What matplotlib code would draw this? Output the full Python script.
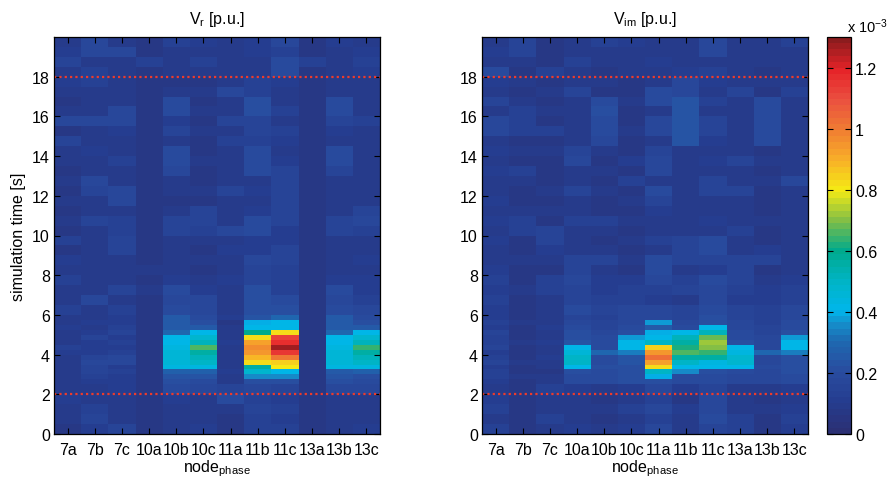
import numpy as np
import matplotlib
matplotlib.use("Agg")
import matplotlib.pyplot as plt
from matplotlib.colors import LinearSegmentedColormap

plt.rcParams['font.family'] = ['Liberation Sans', 'DejaVu Sans']
plt.rcParams['mathtext.default'] = 'regular'
plt.rcParams['font.size'] = 11.5

nodes = ['7a', '7b', '7c', '10a', '10b', '10c', '11a', '11b', '11c', '13a', '13b', '13c']

# time bin edges [s]: 0.5 s bins, refined to 0.25 s around the disturbance
t_edges = np.concatenate([np.arange(0.0, 2.5, 0.5),
                          np.arange(2.5, 6.0, 0.25),
                          np.arange(6.0, 20.01, 0.5)])

# |V_r| deviation, units of 1e-3 p.u.; one row per time bin, one column per node
#            7a    7b    7c    10a   10b   10c   11a   11b   11c   13a   13b   13c
vr_pre = [
    [0.08, 0.12, 0.15, 0.08, 0.09, 0.12, 0.08, 0.14, 0.13, 0.08, 0.10, 0.11],  # 0.0
    [0.10, 0.15, 0.09, 0.08, 0.10, 0.10, 0.08, 0.14, 0.12, 0.08, 0.10, 0.10],  # 0.5
    [0.09, 0.14, 0.10, 0.08, 0.10, 0.10, 0.10, 0.15, 0.14, 0.08, 0.09, 0.10],  # 1.0
    [0.12, 0.10, 0.10, 0.08, 0.11, 0.10, 0.19, 0.13, 0.12, 0.08, 0.10, 0.10],  # 1.5
    [0.09, 0.10, 0.12, 0.08, 0.20, 0.18, 0.16, 0.18, 0.16, 0.08, 0.18, 0.17],  # 2.0
]
vr_event = [
    [0.10, 0.11, 0.12, 0.08, 0.22, 0.20, 0.10, 0.22, 0.22, 0.08, 0.21, 0.20],  # 2.50
    [0.10, 0.14, 0.11, 0.08, 0.24, 0.23, 0.10, 0.36, 0.35, 0.08, 0.23, 0.22],  # 2.75
    [0.10, 0.16, 0.13, 0.08, 0.27, 0.27, 0.11, 0.48, 0.42, 0.08, 0.26, 0.27],  # 3.00
    [0.09, 0.15, 0.12, 0.08, 0.44, 0.44, 0.10, 0.55, 0.80, 0.08, 0.44, 0.44],  # 3.25
    [0.10, 0.17, 0.18, 0.08, 0.46, 0.50, 0.10, 0.82, 0.84, 0.08, 0.46, 0.50],  # 3.50
    [0.10, 0.15, 0.17, 0.08, 0.46, 0.52, 0.10, 0.88, 1.00, 0.08, 0.46, 0.52],  # 3.75
    [0.11, 0.12, 0.13, 0.08, 0.45, 0.55, 0.09, 0.95, 1.15, 0.08, 0.45, 0.55],  # 4.00
    [0.13, 0.11, 0.12, 0.08, 0.43, 0.65, 0.10, 0.97, 1.27, 0.08, 0.43, 0.63],  # 4.25
    [0.10, 0.12, 0.14, 0.08, 0.42, 0.52, 0.11, 0.92, 1.16, 0.08, 0.42, 0.52],  # 4.50
    [0.09, 0.16, 0.12, 0.08, 0.41, 0.48, 0.10, 0.82, 1.12, 0.08, 0.41, 0.47],  # 4.75
    [0.10, 0.12, 0.15, 0.08, 0.30, 0.42, 0.10, 0.60, 0.82, 0.08, 0.30, 0.42],  # 5.00
    [0.12, 0.10, 0.14, 0.08, 0.26, 0.25, 0.09, 0.42, 0.42, 0.08, 0.26, 0.25],  # 5.25
    [0.09, 0.11, 0.12, 0.08, 0.25, 0.22, 0.08, 0.40, 0.42, 0.08, 0.25, 0.22],  # 5.50
    [0.10, 0.10, 0.11, 0.08, 0.25, 0.20, 0.12, 0.24, 0.30, 0.08, 0.25, 0.20],  # 5.75
]
vr_post = [
    [0.14, 0.09, 0.13, 0.08, 0.20, 0.18, 0.10, 0.22, 0.22, 0.08, 0.20, 0.18],  # 6.0
    [0.09, 0.17, 0.10, 0.08, 0.18, 0.17, 0.10, 0.22, 0.20, 0.08, 0.18, 0.14],  # 6.5
    [0.10, 0.10, 0.15, 0.09, 0.20, 0.12, 0.09, 0.22, 0.13, 0.08, 0.20, 0.12],  # 7.0
    [0.13, 0.10, 0.10, 0.08, 0.11, 0.10, 0.12, 0.16, 0.14, 0.08, 0.11, 0.11],  # 7.5
    [0.09, 0.10, 0.10, 0.10, 0.09, 0.08, 0.10, 0.15, 0.13, 0.08, 0.09, 0.10],  # 8.0
    [0.12, 0.09, 0.09, 0.08, 0.10, 0.09, 0.09, 0.17, 0.16, 0.08, 0.10, 0.11],  # 8.5
    [0.08, 0.10, 0.16, 0.08, 0.09, 0.08, 0.11, 0.12, 0.16, 0.08, 0.09, 0.09],  # 9.0
    [0.14, 0.09, 0.16, 0.08, 0.10, 0.09, 0.09, 0.11, 0.12, 0.08, 0.10, 0.10],  # 9.5
    [0.08, 0.10, 0.14, 0.08, 0.15, 0.14, 0.17, 0.20, 0.11, 0.08, 0.15, 0.14],  # 10.0
    [0.09, 0.16, 0.14, 0.08, 0.15, 0.16, 0.09, 0.20, 0.15, 0.08, 0.15, 0.17],  # 10.5
    [0.08, 0.10, 0.09, 0.08, 0.09, 0.15, 0.10, 0.11, 0.15, 0.08, 0.09, 0.16],  # 11.0
    [0.09, 0.09, 0.17, 0.08, 0.08, 0.08, 0.10, 0.10, 0.15, 0.08, 0.09, 0.09],  # 11.5
    [0.08, 0.15, 0.17, 0.08, 0.09, 0.09, 0.16, 0.12, 0.15, 0.08, 0.09, 0.09],  # 12.0
    [0.09, 0.18, 0.10, 0.08, 0.09, 0.08, 0.09, 0.10, 0.15, 0.08, 0.10, 0.09],  # 12.5
    [0.08, 0.10, 0.09, 0.08, 0.17, 0.08, 0.10, 0.19, 0.15, 0.08, 0.16, 0.10],  # 13.0
    [0.10, 0.09, 0.13, 0.08, 0.20, 0.09, 0.09, 0.19, 0.11, 0.08, 0.20, 0.09],  # 13.5
    [0.09, 0.11, 0.10, 0.08, 0.20, 0.08, 0.09, 0.19, 0.10, 0.08, 0.20, 0.09],  # 14.0
    [0.16, 0.09, 0.10, 0.08, 0.10, 0.08, 0.14, 0.14, 0.11, 0.08, 0.10, 0.09],  # 14.5
    [0.08, 0.10, 0.11, 0.08, 0.15, 0.09, 0.09, 0.16, 0.14, 0.08, 0.12, 0.09],  # 15.0
    [0.17, 0.17, 0.17, 0.08, 0.11, 0.08, 0.15, 0.16, 0.10, 0.08, 0.15, 0.13],  # 15.5
    [0.09, 0.10, 0.18, 0.08, 0.20, 0.09, 0.10, 0.22, 0.14, 0.08, 0.20, 0.10],  # 16.0
    [0.08, 0.09, 0.10, 0.08, 0.19, 0.08, 0.09, 0.22, 0.10, 0.08, 0.20, 0.09],  # 16.5
    [0.10, 0.10, 0.09, 0.08, 0.09, 0.09, 0.17, 0.14, 0.10, 0.08, 0.09, 0.09],  # 17.0
    [0.11, 0.14, 0.09, 0.08, 0.08, 0.08, 0.09, 0.14, 0.12, 0.08, 0.09, 0.10],  # 17.5
    [0.09, 0.13, 0.09, 0.08, 0.09, 0.09, 0.10, 0.10, 0.20, 0.08, 0.09, 0.12],  # 18.0
    [0.15, 0.10, 0.09, 0.14, 0.09, 0.14, 0.09, 0.10, 0.20, 0.14, 0.09, 0.14],  # 18.5
    [0.12, 0.18, 0.17, 0.08, 0.09, 0.10, 0.10, 0.11, 0.14, 0.08, 0.10, 0.11],  # 19.0
    [0.10, 0.17, 0.10, 0.08, 0.13, 0.11, 0.10, 0.12, 0.17, 0.08, 0.12, 0.10],  # 19.5
]

# |V_im| deviation, units of 1e-3 p.u.
#             7a    7b    7c    10a   10b   10c   11a   11b   11c   13a   13b   13c
vim_pre = [
    [0.13, 0.08, 0.10, 0.12, 0.10, 0.12, 0.17, 0.10, 0.15, 0.14, 0.07, 0.12],  # 0.0
    [0.10, 0.07, 0.13, 0.10, 0.08, 0.10, 0.14, 0.09, 0.20, 0.13, 0.08, 0.13],  # 0.5
    [0.14, 0.08, 0.09, 0.09, 0.09, 0.13, 0.17, 0.12, 0.18, 0.10, 0.09, 0.11],  # 1.0
    [0.11, 0.07, 0.10, 0.10, 0.08, 0.10, 0.14, 0.07, 0.17, 0.09, 0.08, 0.10],  # 1.5
    [0.10, 0.08, 0.14, 0.12, 0.10, 0.12, 0.18, 0.12, 0.16, 0.10, 0.10, 0.12],  # 2.0
]
vim_event = [
    [0.12, 0.08, 0.10, 0.20, 0.20, 0.22, 0.22, 0.20, 0.20, 0.18, 0.18, 0.20],  # 2.50
    [0.14, 0.09, 0.09, 0.20, 0.20, 0.22, 0.40, 0.20, 0.20, 0.18, 0.18, 0.20],  # 2.75
    [0.13, 0.07, 0.08, 0.22, 0.20, 0.22, 0.50, 0.35, 0.22, 0.20, 0.18, 0.21],  # 3.00
    [0.12, 0.08, 0.10, 0.42, 0.21, 0.22, 0.82, 0.42, 0.42, 0.42, 0.19, 0.22],  # 3.25
    [0.16, 0.09, 0.09, 0.50, 0.20, 0.23, 0.93, 0.50, 0.44, 0.48, 0.18, 0.22],  # 3.50
    [0.13, 0.08, 0.11, 0.50, 0.20, 0.24, 1.03, 0.56, 0.55, 0.48, 0.18, 0.22],  # 3.75
    [0.12, 0.07, 0.09, 0.45, 0.30, 0.33, 0.95, 0.66, 0.64, 0.44, 0.30, 0.33],  # 4.00
    [0.15, 0.08, 0.10, 0.42, 0.20, 0.42, 0.85, 0.62, 0.70, 0.42, 0.18, 0.42],  # 4.25
    [0.14, 0.09, 0.12, 0.24, 0.20, 0.42, 0.50, 0.55, 0.72, 0.22, 0.18, 0.42],  # 4.50
    [0.13, 0.08, 0.10, 0.22, 0.19, 0.38, 0.42, 0.52, 0.68, 0.20, 0.17, 0.38],  # 4.75
    [0.16, 0.07, 0.09, 0.22, 0.17, 0.22, 0.40, 0.42, 0.52, 0.20, 0.16, 0.22],  # 5.00
    [0.12, 0.08, 0.11, 0.20, 0.16, 0.20, 0.25, 0.20, 0.42, 0.18, 0.15, 0.20],  # 5.25
    [0.14, 0.09, 0.10, 0.18, 0.15, 0.18, 0.38, 0.18, 0.22, 0.18, 0.14, 0.20],  # 5.50
    [0.12, 0.08, 0.09, 0.16, 0.14, 0.18, 0.18, 0.15, 0.22, 0.16, 0.14, 0.18],  # 5.75
]
vim_post = [
    [0.12, 0.08, 0.09, 0.20, 0.15, 0.18, 0.18, 0.15, 0.20, 0.15, 0.14, 0.18],  # 6.0
    [0.13, 0.07, 0.10, 0.16, 0.14, 0.14, 0.12, 0.10, 0.17, 0.12, 0.12, 0.14],  # 6.5
    [0.11, 0.09, 0.14, 0.16, 0.12, 0.13, 0.14, 0.15, 0.18, 0.13, 0.12, 0.13],  # 7.0
    [0.14, 0.08, 0.13, 0.18, 0.12, 0.12, 0.18, 0.14, 0.20, 0.16, 0.10, 0.11],  # 7.5
    [0.12, 0.08, 0.08, 0.16, 0.09, 0.08, 0.19, 0.10, 0.11, 0.16, 0.08, 0.10],  # 8.0
    [0.10, 0.09, 0.09, 0.16, 0.16, 0.09, 0.19, 0.15, 0.15, 0.16, 0.15, 0.09],  # 8.5
    [0.10, 0.08, 0.12, 0.09, 0.10, 0.08, 0.10, 0.15, 0.19, 0.09, 0.12, 0.10],  # 9.0
    [0.11, 0.08, 0.16, 0.10, 0.08, 0.09, 0.14, 0.15, 0.19, 0.09, 0.08, 0.09],  # 9.5
    [0.10, 0.14, 0.16, 0.09, 0.09, 0.08, 0.10, 0.09, 0.10, 0.14, 0.08, 0.10],  # 10.0
    [0.12, 0.14, 0.08, 0.14, 0.14, 0.09, 0.10, 0.10, 0.11, 0.09, 0.09, 0.09],  # 10.5
    [0.10, 0.09, 0.09, 0.09, 0.08, 0.08, 0.11, 0.09, 0.10, 0.10, 0.08, 0.10],  # 11.0
    [0.12, 0.08, 0.08, 0.10, 0.08, 0.09, 0.15, 0.09, 0.10, 0.09, 0.08, 0.09],  # 11.5
    [0.10, 0.08, 0.09, 0.16, 0.09, 0.08, 0.20, 0.09, 0.16, 0.15, 0.08, 0.10],  # 12.0
    [0.10, 0.09, 0.08, 0.09, 0.08, 0.14, 0.10, 0.10, 0.16, 0.09, 0.09, 0.17],  # 12.5
    [0.12, 0.13, 0.08, 0.09, 0.09, 0.08, 0.18, 0.09, 0.10, 0.10, 0.08, 0.09],  # 13.0
    [0.10, 0.08, 0.08, 0.17, 0.08, 0.12, 0.18, 0.09, 0.11, 0.16, 0.09, 0.09],  # 13.5
    [0.11, 0.09, 0.09, 0.16, 0.09, 0.08, 0.15, 0.10, 0.10, 0.09, 0.08, 0.10],  # 14.0
    [0.10, 0.08, 0.08, 0.09, 0.18, 0.08, 0.10, 0.24, 0.11, 0.10, 0.20, 0.09],  # 14.5
    [0.18, 0.14, 0.13, 0.09, 0.20, 0.09, 0.18, 0.24, 0.15, 0.09, 0.20, 0.10],  # 15.0
    [0.18, 0.14, 0.08, 0.10, 0.19, 0.08, 0.18, 0.24, 0.15, 0.10, 0.20, 0.09],  # 15.5
    [0.10, 0.14, 0.09, 0.09, 0.21, 0.08, 0.10, 0.24, 0.10, 0.09, 0.20, 0.09],  # 16.0
    [0.16, 0.09, 0.08, 0.10, 0.20, 0.09, 0.20, 0.24, 0.14, 0.10, 0.20, 0.10],  # 16.5
    [0.10, 0.08, 0.09, 0.15, 0.08, 0.08, 0.20, 0.17, 0.10, 0.15, 0.08, 0.13],  # 17.0
    [0.11, 0.09, 0.08, 0.09, 0.09, 0.08, 0.10, 0.17, 0.11, 0.09, 0.09, 0.09],  # 17.5
    [0.20, 0.08, 0.13, 0.09, 0.08, 0.09, 0.10, 0.12, 0.13, 0.10, 0.08, 0.10],  # 18.0
    [0.10, 0.09, 0.08, 0.13, 0.09, 0.09, 0.11, 0.10, 0.10, 0.10, 0.09, 0.10],  # 18.5
    [0.11, 0.16, 0.08, 0.09, 0.10, 0.09, 0.10, 0.10, 0.17, 0.09, 0.10, 0.10],  # 19.0
    [0.10, 0.16, 0.08, 0.09, 0.13, 0.12, 0.10, 0.09, 0.17, 0.09, 0.10, 0.13],  # 19.5
]

event_window = [2.0, 18.0]
cbar_ticks = [0, 0.2, 0.4, 0.6, 0.8, 1.0, 1.2]
cbar_labels = ['0', '0.2', '0.4', '0.6', '0.8', '1', '1.2']

# jet-like palette with print-muted tones
cmap = LinearSegmentedColormap.from_list('muted_jet', [
    (0.00 / 1.3, '#2b3074'),
    (0.10 / 1.3, '#253d90'),
    (0.20 / 1.3, '#294c9f'),
    (0.30 / 1.3, '#1e69b1'),
    (0.36 / 1.3, '#1490cc'),
    (0.40 / 1.3, '#00b6ec'),
    (0.50 / 1.3, '#00b4c4'),
    (0.60 / 1.3, '#00aa8c'),
    (0.70 / 1.3, '#82be46'),
    (0.80 / 1.3, '#f5eb14'),
    (0.90 / 1.3, '#f8b028'),
    (1.00 / 1.3, '#f07d32'),
    (1.10 / 1.3, '#eb5040'),
    (1.20 / 1.3, '#e62328'),
    (1.30 / 1.3, '#8c1c1e'),
], N=64)

W, H = 891, 485
fig = plt.figure(figsize=(W / 100, H / 100), dpi=100)


def frac(x0, y0, x1, y1):
    return [x0 / W, 1 - y1 / H, (x1 - x0) / W, (y1 - y0) / H]


ax_r = fig.add_axes(frac(54, 38, 380, 435))
ax_i = fig.add_axes(frac(482, 38, 808, 435))
cax = fig.add_axes(frac(827, 38, 851, 435))

x_edges = np.arange(len(nodes) + 1) + 0.5
panels = [(ax_r, [vr_pre, vr_event, vr_post], 'V$_r$ [p.u.]'),
          (ax_i, [vim_pre, vim_event, vim_post], 'V$_{im}$ [p.u.]')]

for ax, parts, title in panels:
    grid = np.vstack(parts)
    mesh = ax.pcolormesh(x_edges, t_edges, grid, cmap=cmap, vmin=0, vmax=1.3,
                         shading='flat')
    for t in event_window:
        ax.axhline(t, color='#ee3b2b', lw=1.6, ls=(0, (1, 1.4)))
    ax.set_xlim(0.5, len(nodes) + 0.5)
    ax.set_ylim(0, 20)
    ax.set_xticks(np.arange(1, len(nodes) + 1))
    ax.set_xticklabels(nodes)
    ax.set_yticks(np.arange(0, 19, 2))
    ax.tick_params(direction='in', top=True, right=True, length=4, width=0.8,
                   labelsize=11.5, pad=3)
    ax.tick_params(axis='x', pad=6)
    ax.set_title(title, fontsize=11.5, pad=10)
    ax.set_xlabel('node$_{phase}$', fontsize=11.5, labelpad=0)
    for s in ax.spines.values():
        s.set_linewidth(0.9)

ax_r.set_ylabel('simulation time [s]', fontsize=11.5, labelpad=4)

cb = fig.colorbar(mesh, cax=cax, ticks=cbar_ticks)
cb.ax.set_yticklabels(cbar_labels)
cb.ax.tick_params(direction='in', left=True, right=True, length=4, width=0.8,
                  labelsize=11.5, pad=3)
cb.outline.set_linewidth(0.9)
fig.text(847 / W, 1 - 33 / H, 'x 10$^{-3}$', fontsize=10.5, ha='left', va='baseline')

fig.savefig('out.png', dpi=100)
